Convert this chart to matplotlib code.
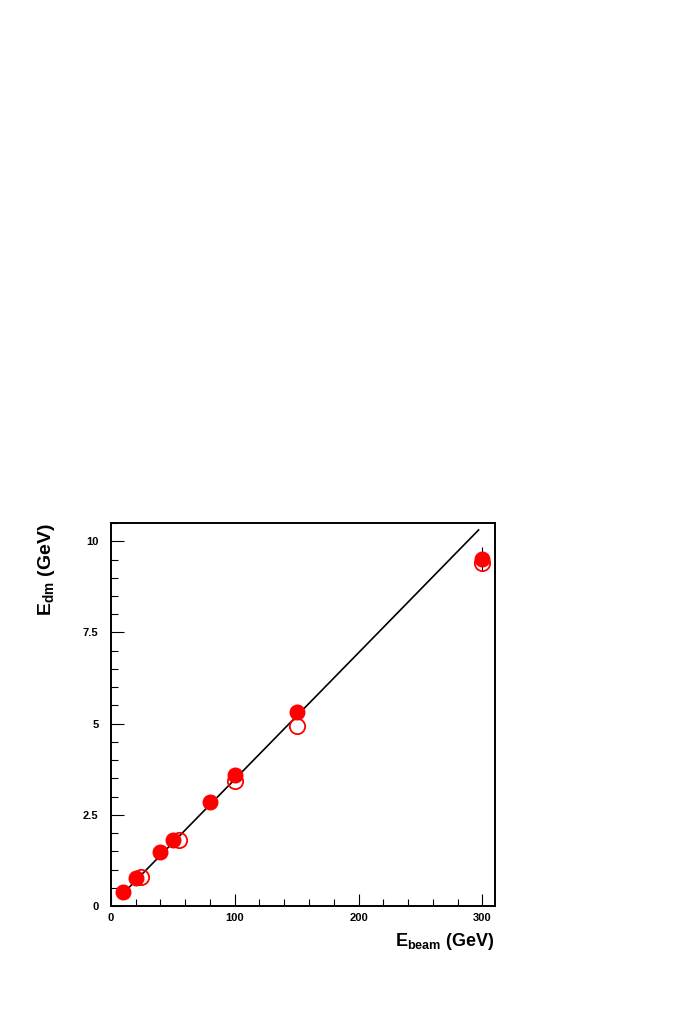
import matplotlib
matplotlib.use("Agg")
import matplotlib.pyplot as plt
from matplotlib.ticker import MultipleLocator, FixedLocator, FixedFormatter

plt.rcParams['font.family'] = ['Liberation Sans', 'DejaVu Sans']
plt.rcParams['mathtext.fontset'] = 'custom'
plt.rcParams['mathtext.rm'] = 'Liberation Sans'
plt.rcParams['mathtext.bf'] = 'Liberation Sans:bold'

# filled points
eFull = [10, 20, 40, 50, 80, 100, 150, 300]
dmFull = [0.38, 0.78, 1.48, 1.81, 2.85, 3.59, 5.32, 9.52]
errFull = [0, 0, 0, 0, 0, 0, 0, 0.33]
# open points
eOpen = [24, 55, 100, 150, 300]
dmOpen = [0.79, 1.80, 3.43, 4.94, 9.40]
# fitted line
lineX = [10, 297]
lineY = [0.347, 10.31]

fig = plt.figure(figsize=(6.89, 10.15), dpi=100)
ax = fig.add_axes([0.161, 0.1074, 0.557, 0.3773])

ax.plot(lineX, lineY, color='black', linewidth=1.2, zorder=2)
ax.errorbar(eFull, dmFull, yerr=errFull, fmt='o', color='red', ecolor='black',
            elinewidth=0.8, markersize=10.5, capsize=0, zorder=3)
ax.plot(eOpen, dmOpen, 'o', markerfacecolor='none', markeredgecolor='red',
        markeredgewidth=1.3, markersize=11, zorder=4)

ax.set_xlim(0, 310)
ax.set_ylim(0, 10.5)
ax.xaxis.set_major_locator(FixedLocator([0, 100, 200, 300]))
ax.xaxis.set_minor_locator(MultipleLocator(20))
ax.yaxis.set_major_locator(FixedLocator([0, 2.5, 5, 7.5, 10]))
ax.yaxis.set_major_formatter(FixedFormatter(['0', '2.5', '5', '7.5', '10']))
ax.yaxis.set_minor_locator(MultipleLocator(0.5))
ax.tick_params(which='both', direction='in', top=False, right=False)
ax.tick_params(which='major', length=9, width=0.8, labelsize=8)
ax.tick_params(axis='y', which='major', pad=9)
ax.tick_params(axis='x', which='major', pad=5)
ax.tick_params(which='minor', length=5, width=0.8)
for lab in ax.get_xticklabels() + ax.get_yticklabels():
    lab.set_fontweight('bold')
for s in ax.spines.values():
    s.set_linewidth(1.4)

ax.set_xlabel(r'$\mathbf{E_{beam}}$ (GeV)', fontsize=13, fontweight='bold', loc='right')
ax.set_ylabel(r'$\mathbf{E_{dm}}$ (GeV)', fontsize=14, fontweight='bold', loc='top')
ax.xaxis.set_label_coords(1.0, -0.065)
ax.yaxis.set_label_coords(-0.14, 1.0)

fig.savefig("out.png", dpi=100)
